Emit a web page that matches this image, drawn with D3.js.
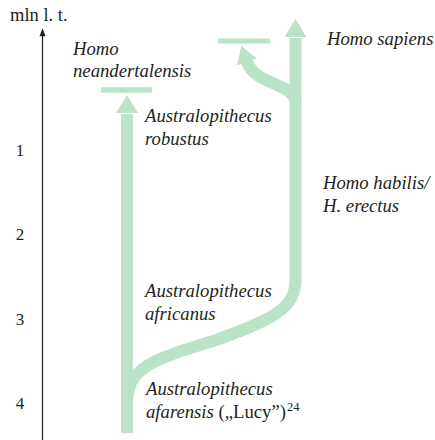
<!DOCTYPE html>
<html>
<head>
<meta charset="utf-8">
<script src="https://cdn.jsdelivr.net/npm/d3@7/dist/d3.min.js"></script>
<style>
  html, body { margin: 0; padding: 0; background: #fff; }
  svg { display: block; }
</style>
</head>
<body>
<div id="chart"></div>
<script>
// ---------- data ----------
const axisTitle = "mln l. t.";
const tickValues = [1, 2, 3, 4];                 // million years ago
const lineageNames = ["Australopithecus", "Homo"];

// key times (Ma) of the schematic tree
const trunkStart = 4.35;       // base of the Australopithecus trunk
const splitTime = 4.02;        // Homo branch leaves the trunk
const homoStraight = 2.54;     // Homo lineage becomes vertical
const neanderBranch = 0.41;    // neandertal branch leaves Homo line
const australEnd = 0.35;       // tip of the Australopithecus arrow
const neanderBarTime = 0.29;   // extinction bar (left)
const branchArrowTime = -0.04; // base of the side-branch arrowhead
const sideBarTime = -0.29;     // extinction bar (right)
const homoEnd = -0.55;         // tip of the Homo sapiens arrow
const axisTop = -0.44;

// labels (text only)
const labelNeander = ["Homo", "neandertalensis"];
const labelRobustus = ["Australopithecus", "robustus"];
const labelSapiens = ["Homo sapiens"];
const labelHabilis = ["Homo habilis/", "H. erectus"];
const labelAfricanus = ["Australopithecus", "africanus"];
const labelAfarensis = ["Australopithecus", "afarensis"];
const lucySuffix = " (\u201ELucy\u201D)";
const lucyNote = "24";

// ---------- layout ----------
const W = 435, H = 440;
const green = "#bae3c7";
const ink = "#231f20";
const serif = "'Liberation Serif', 'Times New Roman', serif";
const fs = 18.7;

const svg = d3.select("#chart").append("svg")
  .attr("width", W).attr("height", H);

const y = d3.scaleLinear().domain([0, 4]).range([65.5, 403.5]);
const x = d3.scaleLinear().domain([0, 1]).range([127, 295.5]);
const xLin = d3.scalePoint().domain(lineageNames).range([x(0), x(1)]);

// ---------- axis ----------
const axisX = 42.5;
svg.append("line")
  .attr("x1", axisX).attr("x2", axisX)
  .attr("y1", H).attr("y2", y(axisTop) + 5)
  .attr("stroke", ink).attr("stroke-width", 1.2);
svg.append("path")
  .attr("d", `M${axisX},${y(axisTop)} L${axisX - 3},${y(axisTop) + 8} L${axisX + 3},${y(axisTop) + 8} Z`)
  .attr("fill", ink);

svg.append("text")
  .attr("x", 10).attr("y", 21)
  .attr("font-family", serif).attr("font-size", 18.5)
  .attr("fill", ink).text(axisTitle);

svg.selectAll(".tick").data(tickValues).enter().append("text")
  .attr("x", 20).attr("y", d => y(d)).attr("dy", "0.35em")
  .attr("text-anchor", "middle")
  .attr("font-family", serif).attr("font-size", 17)
  .attr("fill", ink).text(d => d);

// ---------- tree ----------
const sw = 12;
const g = svg.append("g");

function stroke(d) {
  g.append("path").attr("d", d).attr("fill", "none")
    .attr("stroke", green).attr("stroke-width", sw);
}
function arrowHead(tx, ty, dx, dy, len, hw) {
  const n = Math.hypot(dx, dy); dx /= n; dy /= n;
  const bx = tx - dx * len, by = ty - dy * len;
  const px = -dy, py = dx;
  g.append("path")
    .attr("d", `M${tx},${ty} L${bx + px * hw},${by + py * hw} L${bx - px * hw},${by - py * hw} Z`)
    .attr("fill", green);
  return [bx, by];
}

// Australopithecus trunk
const xa = xLin("Australopithecus");
const [, aBase] = arrowHead(xa, y(australEnd), 0, -1, 18, 11);
stroke(`M${xa},${y(trunkStart)} L${xa},${aBase + 1}`);

// Homo lineage (S-curve from trunk, then vertical)
const xh = xLin("Homo");
const [, hBase] = arrowHead(xh, y(homoEnd), 0, -1, 18, 11);
const p = d3.path();
p.moveTo(x(0), y(splitTime));
p.bezierCurveTo(x(0), y(3.58), x(0.136), y(3.485), x(0.522), y(3.254));
p.bezierCurveTo(x(0.849), y(3.012), x(1), y(2.893), x(1), y(homoStraight));
p.lineTo(xh, hBase + 1);
stroke(p.toString());

// side branch from Homo line near the top
const bEnd = [x(0.712), y(branchArrowTime)];
const c2 = [x(0.760), y(0.231)];
const dirx = bEnd[0] - c2[0], diry = bEnd[1] - c2[1];
const dn = Math.hypot(dirx, diry);
arrowHead(bEnd[0] + dirx / dn * 17, bEnd[1] + diry / dn * 17, dirx, diry, 17, 10.5);
const q = d3.path();
q.moveTo(x(1), y(neanderBranch));
q.bezierCurveTo(x(0.967), y(0.195), c2[0], c2[1], bEnd[0] + dirx / dn, bEnd[1] + diry / dn);
stroke(q.toString());

// extinction bars
g.append("line")
  .attr("x1", x(-0.154)).attr("x2", x(0.148))
  .attr("y1", y(neanderBarTime)).attr("y2", y(neanderBarTime))
  .attr("stroke", green).attr("stroke-width", 5.5);
g.append("line")
  .attr("x1", x(0.540)).attr("x2", x(0.849))
  .attr("y1", y(sideBarTime)).attr("y2", y(sideBarTime))
  .attr("stroke", green).attr("stroke-width", 5);

// ---------- labels ----------
function label(lines, lx, ly, lh) {
  const t = svg.append("text")
    .attr("font-family", serif).attr("font-size", fs)
    .attr("font-style", "italic").attr("fill", ink);
  lines.forEach((s, i) => {
    t.append("tspan").attr("x", lx).attr("y", ly + i * lh).text(s);
  });
  return t;
}
label(labelNeander, 73, 55, 22);
label(labelRobustus, 145, 122, 23);
label(labelSapiens, 327, 45, 23);
label(labelHabilis, 323, 189, 23);
label(labelAfricanus, 145, 297, 23);
const lucy = label(labelAfarensis, 146, 395, 22.5);
lucy.append("tspan").attr("font-style", "normal").text(lucySuffix);
lucy.append("tspan").attr("font-style", "normal").attr("font-size", 12.5)
  .attr("dx", 1).attr("dy", -7).text(lucyNote);
</script>
</body>
</html>
